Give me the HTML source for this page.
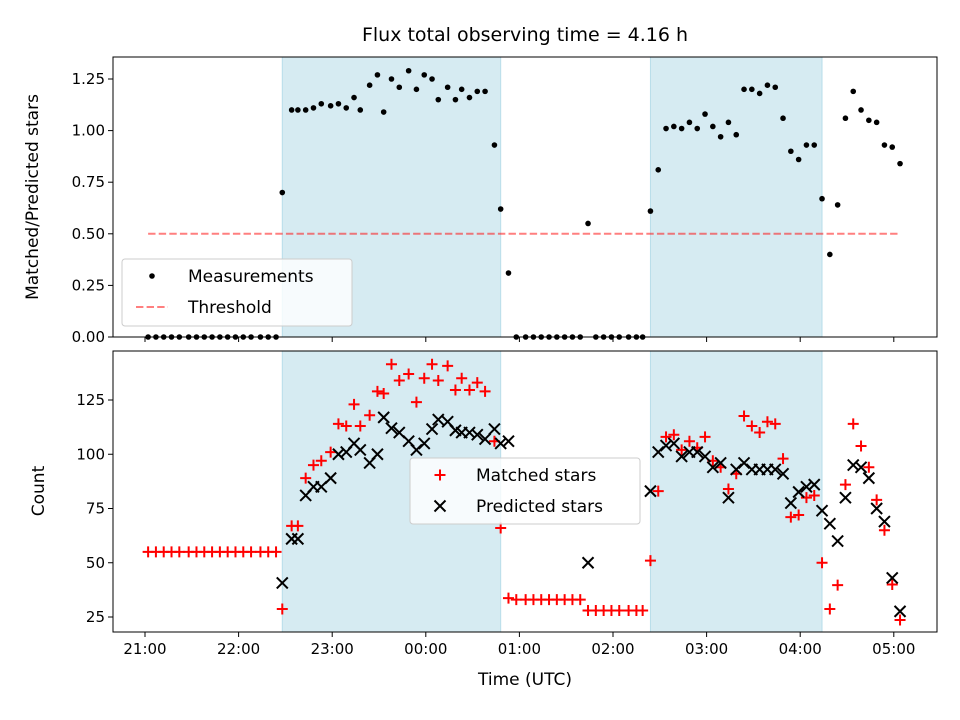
<!DOCTYPE html>
<html><head><meta charset="utf-8"><style>
html,body{margin:0;padding:0;background:#fff;}
svg{display:block;font-family:"DejaVu Sans","Liberation Sans",sans-serif;}
</style></head><body>
<svg id="chart" width="960" height="720" viewBox="0 0 960 720" xmlns="http://www.w3.org/2000/svg">
<rect width="960" height="720" fill="#fff"/>
<text x="525" y="41" font-size="19" text-anchor="middle">Flux total observing time = 4.16 h</text>
<g id="topPanel"></g><g id="botPanel"></g>
</svg>
<script>
// minutes after 21:00
const times=[2,7,12,17,22,28,33,38,43,48,53,58,63,68,74,79,84,
88,94,98,103,108,113,119,124,129,134,138,144,149,153,158,163,169,174,179,184,188,194,199,203,208,213,218,224,228,233,
238,244,249,254,259,264,269,274,279,284,289,294,299,304,310,315,319,
324,329,334,339,344,349,354,359,364,369,374,379,384,389,394,399,404,409,414,419,424,429,434,439,444,449,454,459,464,469,474,479,484];
const ratio=[0,0,0,0,0,0,0,0,0,0,0,0,0,0,0,0,0,
0.70,1.10,1.10,1.10,1.11,1.13,1.12,1.13,1.11,1.16,1.10,1.22,1.27,1.09,1.25,1.21,1.29,1.20,1.27,1.25,1.15,1.21,1.15,1.20,1.16,1.19,1.19,0.93,0.62,0.31,
0,0,0,0,0,0,0,0,0,0.55,0,0,0,0,0,0,0,
0.61,0.81,1.01,1.02,1.01,1.04,1.01,1.08,1.02,0.97,1.04,0.98,1.20,1.20,1.18,1.22,1.21,1.06,0.90,0.86,0.93,0.93,0.67,0.40,0.64,1.06,1.19,1.10,1.05,1.04,0.93,0.92,0.84];
const matched=[55,55,55,55,55,55,55,55,55,55,55,55,55,55,55,55,55,
28.7,67,67,89,95,97,101,114,113,123,113,118,129,128,141.5,134,137,124,135,141.5,134,140.7,129.6,135,129.6,133,129,106,66,33.7,
33,33,33,33,33,33,33,33,33,28,28,28,28,28,28,28,28,
51,83,108,109,102,106,103,108,97,94,84,91,117.6,113,110,115,114,98,71,72,80,81,50,28.7,39.7,86,114,103.8,94,79,65,40,23.6];
const predicted=[null,null,null,null,null,null,null,null,null,null,null,null,null,null,null,null,null,
40.7,61,61,81,85,85,89,100,101,105,102,96,100,117,112,110,106,102,105,111.6,116,115,111,110,110,109,107,111.6,105,106,
null,null,null,null,null,null,null,null,null,50,null,null,null,null,null,null,null,
83,101,104,105,99,101,101,99,94,96,80,93,96,93,93,93,93,91,77.5,82.6,85,86,74,68,60,80,95,94,89,75,69,43,27.6];
const shadeStart=[88,324];
const shadeEnd=[228,434];
const threshold=0.5;
const thrRange=[2,484];
const xTickLabels=["21:00","22:00","23:00","00:00","01:00","02:00","03:00","04:00","05:00"];
const xTickVals=[0,60,120,180,240,300,360,420,480];
const topTicks=[0,0.25,0.5,0.75,1.0,1.25];
const botTicks=[25,50,75,100,125];

const NS="http://www.w3.org/2000/svg";
const L=113,R=937,T1=57,B1=337,T2=351,B2=632;
const xs=m=>145+m/60*93.6;
const yt=v=>337-v*206.4;
const yb=v=>617-(v-25)*2.17;
function mk(p,tag,a){const e=document.createElementNS(NS,tag);for(const k in a)e.setAttribute(k,a[k]);p.appendChild(e);return e;}
const gTop=document.getElementById('topPanel'),gBot=document.getElementById('botPanel');
const svg=document.getElementById('chart');

[[gTop,T1,B1],[gBot,T2,B2]].forEach(([g,T,B],pi)=>{
  for(let i=0;i<shadeStart.length;i++){
    const r=mk(g,'rect',{x:xs(shadeStart[i]),y:T,width:xs(shadeEnd[i])-xs(shadeStart[i]),height:B-T,fill:'#add8e6','fill-opacity':0.5,stroke:'#add8e6','stroke-opacity':0.8});
    
    
  }
  xTickVals.forEach((v,i)=>{
    const t=mk(g,'line',{x1:xs(v),x2:xs(v),y1:B,y2:B+5,stroke:'#000','stroke-width':1});
    
    
    if(pi===1){
      const lb=mk(g,'text',{x:xs(v),y:B+22,'font-size':15,'text-anchor':'middle'});lb.textContent=xTickLabels[i];
      
      
    }
  });
});
topTicks.forEach(v=>{
  mk(gTop,'line',{x1:L-5,x2:L,y1:yt(v),y2:yt(v),stroke:'#000'});
  const lb=mk(gTop,'text',{x:L-8,y:yt(v)+5,'font-size':15,'text-anchor':'end'});lb.textContent=v.toFixed(2);
  
  
});
botTicks.forEach(v=>{
  mk(gBot,'line',{x1:L-5,x2:L,y1:yb(v),y2:yb(v),stroke:'#000'});
  const lb=mk(gBot,'text',{x:L-8,y:yb(v)+5,'font-size':15,'text-anchor':'end'});lb.textContent=v;
  
  
});
const th=mk(gTop,'line',{x1:xs(thrRange[0]),x2:xs(thrRange[1]),y1:yt(threshold),y2:yt(threshold),stroke:'#ff0000','stroke-opacity':0.5,'stroke-width':2,'stroke-dasharray':'7.4,3.2'});


times.forEach((m,i)=>{
  const c=mk(gTop,'circle',{cx:xs(m),cy:yt(ratio[i]),r:2.8,fill:'#000'});
  
  
});
function plus(g,x,y){return mk(g,'path',{d:`M${x-5.5},${y}H${x+5.5}M${x},${y-5.5}V${y+5.5}`,stroke:'#f00','stroke-width':2});}
function cross(g,x,y){return mk(g,'path',{d:`M${x-5.5},${y-5.5}L${x+5.5},${y+5.5}M${x-5.5},${y+5.5}L${x+5.5},${y-5.5}`,stroke:'#000','stroke-width':2});}
times.forEach((m,i)=>{
  const p=plus(gBot,xs(m),yb(matched[i]));
  
  
});
times.forEach((m,i)=>{
  if(predicted[i]===null)return;
  const p=cross(gBot,xs(m),yb(predicted[i]));
  
  
});
[[T1,B1],[T2,B2]].forEach(([T,B])=>{
  const f=mk(svg,'rect',{x:L,y:T,width:R-L,height:B-T,fill:'none',stroke:'#000','stroke-width':1});
  
  
});
function legend(x,y,w,h,items){
  const g=mk(svg,'g',{});
  
  
  mk(g,'rect',{x:x,y:y,width:w,height:h,rx:3,fill:'#fff','fill-opacity':0.8,stroke:'#ccc'});
  items.forEach((it,i)=>{
    const cy=y+17+i*31;
    it.draw(g,x+30,cy);
    const t=mk(g,'text',{x:x+66,y:cy+6,'font-size':17});t.textContent=it.label;
    
    
  });
}
legend(122,259,230,67,[
  {label:'Measurements',draw:(g,x,y)=>mk(g,'circle',{cx:x,cy:y,r:2.8,fill:'#000'})},
  {label:'Threshold',draw:(g,x,y)=>mk(g,'line',{x1:x-16,x2:x+16,y1:y,y2:y,stroke:'#ff0000','stroke-opacity':0.5,'stroke-width':2,'stroke-dasharray':'7.4,3.2'})}
]);
legend(410,458,230,66,[
  {label:'Matched stars',draw:(g,x,y)=>plus(g,x,y)},
  {label:'Predicted stars',draw:(g,x,y)=>cross(g,x,y)}
]);
let t=mk(svg,'text',{x:525,y:690,'font-size':17,'text-anchor':'middle'});t.textContent='Time (UTC)';
t.setAttribute('y','685');


t=mk(svg,'text',{x:0,y:0,'font-size':17,'text-anchor':'middle',transform:'translate(38,197) rotate(-90)'});t.textContent='Matched/Predicted stars';
t.setAttribute('transform','translate(38,197) rotate(-90)');


t=mk(svg,'text',{x:0,y:0,'font-size':17,'text-anchor':'middle',transform:'translate(44,491) rotate(-90)'});t.textContent='Count';
t.setAttribute('transform','translate(44,491) rotate(-90)');


</script>
</body></html>
